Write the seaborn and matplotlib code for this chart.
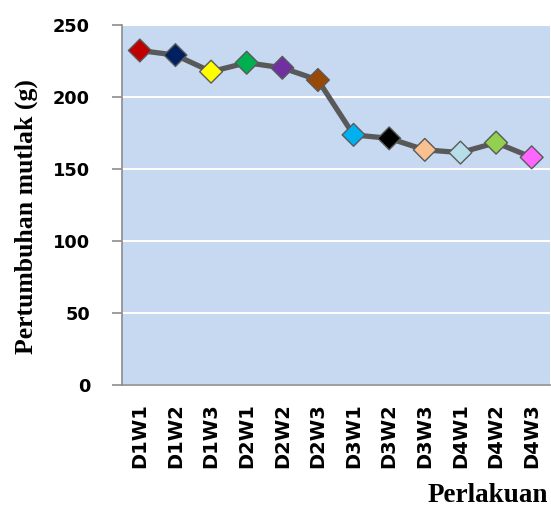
import numpy as np
import pandas as pd
import matplotlib
matplotlib.use("Agg")
import matplotlib.pyplot as plt
import seaborn as sns

# data
perlakuan = ["D1W1", "D1W2", "D1W3", "D2W1", "D2W2", "D2W3",
             "D3W1", "D3W2", "D3W3", "D4W1", "D4W2", "D4W3"]
pertumbuhan = [232.3, 229.1, 217.6, 223.8, 220.3, 211.8,
               173.7, 171.3, 163.3, 161.4, 168.3, 158.1]
marker_colors = ["#C00000", "#002060", "#FFFF00", "#00B050", "#7030A0", "#984807",
                 "#00B0F0", "#000000", "#FAC090", "#B7DEE8", "#92D050", "#FF66FF"]
y_ticks = [0, 50, 100, 150, 200, 250]

df = pd.DataFrame({"Perlakuan": perlakuan, "Pertumbuhan": pertumbuhan})

sns.set_style("white")
plt.rcParams.update({"text.color": "black", "axes.labelcolor": "black"})

fig = plt.figure(figsize=(5.51, 5.08), dpi=100)
ax = fig.add_axes([122 / 551, 1 - 385 / 508, 427.5 / 551, 360 / 508])
ax.set_facecolor("#C6D9F1")

sns.lineplot(data=df, x="Perlakuan", y="Pertumbuhan", color="#595959",
             linewidth=3.8, ax=ax, zorder=2)
sns.scatterplot(data=df, x="Perlakuan", y="Pertumbuhan", hue="Perlakuan",
                palette=dict(zip(perlakuan, marker_colors)), marker="D", s=135,
                edgecolor="#5A5A5A", linewidth=1.0, legend=False, ax=ax, zorder=3)

ax.set_ylim(0, 250)
ax.set_xlim(-0.5, len(perlakuan) - 0.5)
ax.yaxis.grid(True, color="white", linewidth=1.5)
ax.set_axisbelow(True)

for side in ["top", "right"]:
    ax.spines[side].set_visible(False)
for side in ["left", "bottom"]:
    ax.spines[side].set_color("#8C8C8C")
    ax.spines[side].set_linewidth(1.2)

ax.tick_params(axis="y", direction="out", length=7, width=1.2, color="#8C8C8C",
               labelcolor="black", pad=16, left=True)
ax.tick_params(axis="x", length=0, pad=13, labelcolor="black")

ax.set_yticks(y_ticks)
ax.set_yticklabels([str(v) for v in y_ticks], fontfamily="DejaVu Sans",
                   fontweight="bold", fontsize=12.8, color="black")
ax.set_xticks(range(len(perlakuan)))
ax.set_xticklabels(perlakuan, rotation=90, fontfamily="DejaVu Sans",
                   fontweight="bold", fontsize=14, color="black")

ax.set_xlabel("")
ax.set_ylabel("Pertumbuhan mutlak (g)", fontfamily="Liberation Serif",
              fontweight="bold", fontsize=18.5, color="black")
ax.yaxis.set_label_coords(-0.196, 0.469)
fig.text(548 / 551, 1 - 502 / 508, "Perlakuan", ha="right", va="baseline",
         fontfamily="Liberation Serif", fontweight="bold", fontsize=19.5,
         color="black")

fig.savefig("out.png", dpi=100)
